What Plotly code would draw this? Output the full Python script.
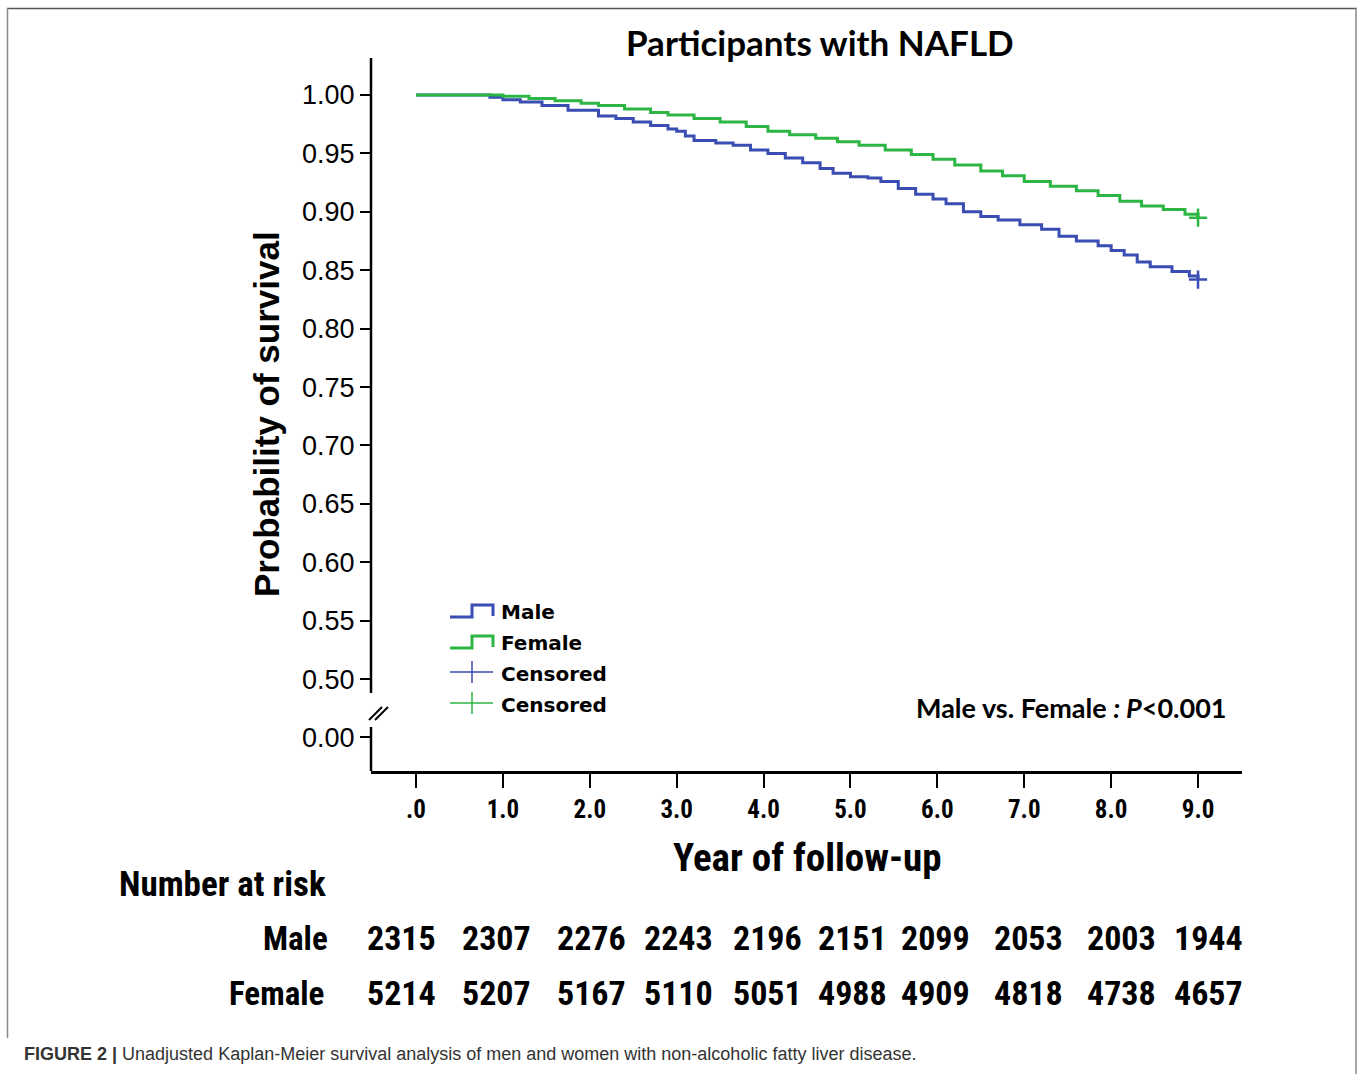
import plotly.graph_objects as go

# ---------------- data ----------------
male_time = [0.0, 0.75, 0.85, 1.0, 1.2, 1.45, 1.75, 2.1, 2.3, 2.5, 2.7, 2.9, 3.0, 3.1, 3.2,
             3.45, 3.65, 3.85, 4.05, 4.25, 4.45, 4.65, 4.8, 5.0, 5.2, 5.35, 5.55, 5.75, 5.95,
             6.1, 6.3, 6.5, 6.7, 6.95, 7.2, 7.4, 7.6, 7.85, 8.0, 8.15, 8.3, 8.45, 8.7, 8.9, 9.0]
male_surv = [1.000, 1.000, 0.998, 0.996, 0.994, 0.991, 0.987, 0.982, 0.980, 0.977, 0.974, 0.971,
             0.969, 0.965, 0.961, 0.959, 0.957, 0.953, 0.950, 0.946, 0.942, 0.937, 0.933, 0.930,
             0.929, 0.926, 0.920, 0.915, 0.911, 0.907, 0.900, 0.896, 0.893, 0.889, 0.885, 0.879,
             0.875, 0.871, 0.867, 0.863, 0.857, 0.853, 0.849, 0.845, 0.842]

female_time = [0.0, 0.8, 1.0, 1.3, 1.6, 1.9, 2.1, 2.4, 2.7, 2.9, 3.2, 3.5, 3.8, 4.05, 4.3, 4.6,
               4.85, 5.1, 5.4, 5.7, 5.95, 6.2, 6.5, 6.75, 7.0, 7.3, 7.6, 7.85, 8.1, 8.35, 8.6,
               8.85, 9.0]
female_surv = [1.000, 1.000, 0.999, 0.997, 0.995, 0.993, 0.991, 0.988, 0.985, 0.983, 0.980,
               0.977, 0.973, 0.969, 0.966, 0.963, 0.960, 0.957, 0.953, 0.949, 0.945, 0.940,
               0.935, 0.931, 0.926, 0.922, 0.918, 0.914, 0.909, 0.905, 0.902, 0.898, 0.895]

x_tick_vals = [0, 1, 2, 3, 4, 5, 6, 7, 8, 9]
x_tick_text = [".0", "1.0", "2.0", "3.0", "4.0", "5.0", "6.0", "7.0", "8.0", "9.0"]
y_tick_vals = [0.45, 0.50, 0.55, 0.60, 0.65, 0.70, 0.75, 0.80, 0.85, 0.90, 0.95, 1.00]
y_tick_text = ["0.00", "0.50", "0.55", "0.60", "0.65", "0.70", "0.75", "0.80", "0.85",
               "0.90", "0.95", "1.00"]

risk_male = [2315, 2307, 2276, 2243, 2196, 2151, 2099, 2053, 2003, 1944]
risk_female = [5214, 5207, 5167, 5110, 5051, 4988, 4909, 4818, 4738, 4657]

# ---------------- styling ----------------
BLUE = "#3A4DB2"
GREEN = "#2DB544"
W, H = 1358, 1074
L, R, T, B = 371, 1242, 58, 771  # plot area in pixels


def px_x(p):
    return (p - L) / (R - L)


def px_y(p):
    return (B - p) / (B - T)


NARROW = "Liberation Sans Narrow, Arial Narrow, Roboto Condensed, Liberation Sans"
ARIAL = "Liberation Sans, Arial"
CALIBRI = "Lato, Open Sans"

fig = go.Figure()
fig.add_trace(go.Scatter(x=male_time, y=male_surv, mode="lines", line_shape="hv",
                         line=dict(color=BLUE, width=3), showlegend=False))
fig.add_trace(go.Scatter(x=female_time, y=female_surv, mode="lines", line_shape="hv",
                         line=dict(color=GREEN, width=3), showlegend=False))
fig.add_trace(go.Scatter(x=[male_time[-1]], y=[male_surv[-1]], mode="markers",
                         marker=dict(symbol="cross-thin", size=13,
                                     line=dict(color=BLUE, width=2.5)),
                         showlegend=False))
fig.add_trace(go.Scatter(x=[female_time[-1]], y=[female_surv[-1]], mode="markers",
                         marker=dict(symbol="cross-thin", size=13,
                                     line=dict(color=GREEN, width=2.5)),
                         showlegend=False))

shapes = []
# broken y axis line
shapes.append(dict(type="line", xref="paper", yref="paper", x0=0, x1=0,
                   y0=px_y(693), y1=1, line=dict(color="black", width=2.5)))
shapes.append(dict(type="line", xref="paper", yref="paper", x0=0, x1=0,
                   y0=px_y(727), y1=0, line=dict(color="black", width=2.5)))
# break marks //
for dx in (0, 6):
    shapes.append(dict(type="line", xref="paper", yref="paper",
                       x0=px_x(369 + dx), y0=px_y(720), x1=px_x(382 + dx), y1=px_y(707),
                       line=dict(color="black", width=2)))
# frame
shapes.append(dict(type="line", xref="paper", yref="paper", x0=px_x(7), x1=px_x(1357),
                   y0=px_y(8.5), y1=px_y(8.5), line=dict(color="#555555", width=1.5)))
shapes.append(dict(type="line", xref="paper", yref="paper", x0=px_x(7.5), x1=px_x(7.5),
                   y0=px_y(8), y1=px_y(1038), line=dict(color="#888888", width=1.5)))
shapes.append(dict(type="line", xref="paper", yref="paper", x0=px_x(1356), x1=px_x(1356),
                   y0=px_y(8), y1=px_y(1074), line=dict(color="#888888", width=1.5)))


# legend glyphs
def step_path(y0):
    pts = [(450, y0 + 5), (472, y0 + 5), (472, y0 - 7), (493, y0 - 7), (493, y0 + 4)]
    return "M " + " L ".join(f"{px_x(a)},{px_y(b)}" for a, b in pts)


shapes.append(dict(type="path", xref="paper", yref="paper", path=step_path(612),
                   line=dict(color=BLUE, width=3)))
shapes.append(dict(type="path", xref="paper", yref="paper", path=step_path(643),
                   line=dict(color=GREEN, width=3)))
for yc, col in ((672, BLUE), (703, GREEN)):
    shapes.append(dict(type="line", xref="paper", yref="paper", x0=px_x(450), x1=px_x(493),
                       y0=px_y(yc), y1=px_y(yc), line=dict(color=col, width=1.5)))
    shapes.append(dict(type="line", xref="paper", yref="paper", x0=px_x(472), x1=px_x(472),
                       y0=px_y(yc - 11), y1=px_y(yc + 11), line=dict(color=col, width=1.5)))

ann = []
LEG_FONT = dict(family="DejaVu Sans", size=20, color="black")
for txt, yc in (("Male", 612), ("Female", 643), ("Censored", 674), ("Censored", 705)):
    ann.append(dict(text=f"<b>{txt}</b>", xref="paper", yref="paper", x=px_x(499), y=px_y(yc),
                    xanchor="left", yanchor="middle", showarrow=False, font=LEG_FONT))

ann.append(dict(text="<b>Participants with NAFLD</b>", xref="paper", yref="paper",
                x=px_x(820), y=px_y(42), xanchor="center", yanchor="middle", showarrow=False,
                font=dict(family=CALIBRI, size=35, color="black")))
ann.append(dict(text="<b>Male vs. Female <i>: P</i></b><b>&lt;0.001</b>", xref="paper",
                yref="paper", x=px_x(1071), y=px_y(707), xanchor="center", yanchor="middle",
                showarrow=False, font=dict(family=CALIBRI, size=27, color="black")))
ann.append(dict(text="<b>Probability of survival</b>", xref="paper", yref="paper",
                x=px_x(266), y=px_y(414), xanchor="center", yanchor="middle", textangle=-90,
                showarrow=False, font=dict(family=ARIAL, size=35, color="black")))
ann.append(dict(text="<b>Year of follow-up</b>", xref="paper", yref="paper",
                x=px_x(807), y=px_y(858), xanchor="center", yanchor="middle",
                showarrow=False, font=dict(family=NARROW, size=39, color="black")))
ann.append(dict(text="<b>Number at risk</b>", xref="paper", yref="paper",
                x=px_x(117), y=px_y(884), xanchor="left", yanchor="middle",
                showarrow=False, font=dict(family=NARROW, size=35, color="black")))
ann.append(dict(text="<b>Male</b>", xref="paper", yref="paper",
                x=px_x(330), y=px_y(938), xanchor="right", yanchor="middle",
                showarrow=False, font=dict(family=NARROW, size=33, color="black")))
ann.append(dict(text="<b>Female</b>", xref="paper", yref="paper",
                x=px_x(326), y=px_y(993), xanchor="right", yanchor="middle",
                showarrow=False, font=dict(family=NARROW, size=33, color="black")))
col_shift = [-15, -6, 2, 2, 4, 2, -2, 4, 10, 10]
for i, t in enumerate(x_tick_vals):
    for vals, yc in ((risk_male, 938), (risk_female, 993)):
        ann.append(dict(text=f"<b>{vals[i]}</b>", xref="x", yref="paper", x=t, y=px_y(yc),
                        xshift=col_shift[i], xanchor="center", yanchor="middle",
                        showarrow=False, font=dict(family=NARROW, size=34, color="black")))
ann.append(dict(text="<b>FIGURE 2 |</b> Unadjusted Kaplan-Meier survival analysis of men and "
                     "women with non-alcoholic fatty liver disease.",
                xref="paper", yref="paper", x=px_x(22), y=px_y(1054), xanchor="left",
                yanchor="middle", showarrow=False,
                font=dict(family=ARIAL, size=18, color="#333333")))

fig.update_layout(
    width=W, height=H, margin=dict(l=L, r=W - R, t=T, b=H - B, pad=0),
    paper_bgcolor="white", plot_bgcolor="white",
    shapes=shapes, annotations=ann,
    xaxis=dict(range=[-0.518, 9.506], tickvals=x_tick_vals,
               ticktext=[f"<b>{s}</b>" for s in x_tick_text],
               ticks="outside", ticklen=14, tickwidth=2, tickcolor="black",
               showline=True, linecolor="black", linewidth=2.5, showgrid=False,
               zeroline=False, tickfont=dict(family=NARROW, size=25, color="black")),
    yaxis=dict(range=[0.4213, 1.0317], tickvals=y_tick_vals, ticktext=y_tick_text,
               ticks="outside", ticklen=10, tickwidth=2, tickcolor="black",
               showline=False, showgrid=False, zeroline=False,
               tickfont=dict(family=ARIAL, size=27, color="black")),
)

fig.write_html("out.html")
